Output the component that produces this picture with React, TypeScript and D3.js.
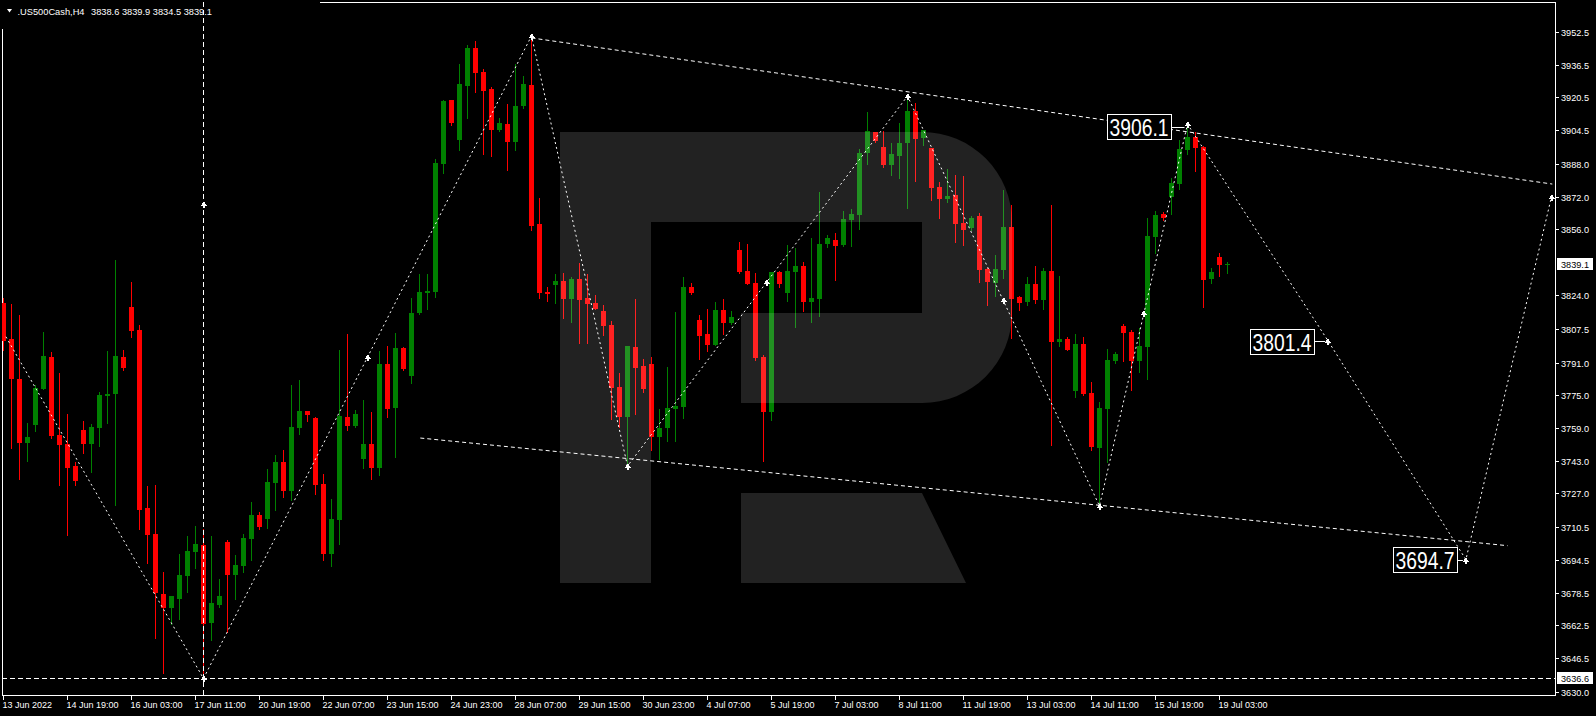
import React from 'react';
import * as d3 from 'd3';

// H4 candles, 13 Jun 2022 -> 19 Jul 2022
const opens = [
  3820.2, 3802.3, 3782.8, 3751.8, 3760.6, 3778.2, 3793.5, 3755.6, 3751.2, 3740.4,
  3758.0, 3751.3, 3759.2, 3774.8, 3775.8, 3793.5, 3818.1, 3806.9, 3719.9, 3707.2,
  3677.9, 3671.2, 3675.3, 3686.8, 3698.6, 3701.7, 3663.9, 3672.5, 3703.3, 3687.3,
  3691.7, 3704.9, 3716.5, 3714.5, 3732.1, 3742.4, 3728.2, 3759.0, 3767.3, 3763.9,
  3731.6, 3697.4, 3714.0, 3764.4, 3760.0, 3743.9, 3751.2, 3739.5, 3790.3, 3768.8,
  3798.1, 3784.4, 3815.2, 3825.0, 3825.5, 3888.0, 3919.3, 3899.7, 3926.1, 3944.7,
  3933.0, 3924.7, 3904.6, 3907.6, 3898.8, 3916.4, 3926.6, 3858.7, 3825.5, 3828.9,
  3830.8, 3822.0, 3831.8, 3822.5, 3820.1, 3816.2, 3809.3, 3779.0, 3764.4, 3798.6,
  3789.3, 3790.3, 3754.6, 3759.0, 3768.3, 3769.3, 3827.9, 3811.8, 3804.9, 3799.5,
  3816.6, 3810.3, 3846.0, 3835.7, 3829.9, 3793.7, 3766.8, 3835.2, 3825.0, 3835.2,
  3838.2, 3820.6, 3822.0, 3848.9, 3850.9, 3848.4, 3860.6, 3863.1, 3893.4, 3903.6,
  3896.3, 3887.5, 3891.9, 3898.3, 3913.9, 3900.7, 3895.8, 3876.8, 3870.9, 3872.9,
  3859.2, 3856.7, 3862.6, 3836.7, 3829.8, 3836.2, 3857.2, 3823.0, 3820.5, 3829.4,
  3821.5, 3835.7, 3801.0, 3802.5, 3777.1, 3800.0, 3776.1, 3749.2, 3768.3, 3791.7,
  3808.9, 3805.9, 3791.7, 3798.6, 3852.3, 3863.6, 3871.9, 3878.2, 3894.8, 3901.2,
  3896.3, 3831.8, 3842.6, 3838.6,
];
const highs = [
  3822.5, 3819.6, 3814.2, 3761.3, 3780.0, 3805.7, 3796.1, 3785.7, 3765.7, 3742.2,
  3762.4, 3760.9, 3776.4, 3796.6, 3841.1, 3797.1, 3830.5, 3809.3, 3730.7, 3731.2,
  3688.6, 3676.9, 3697.4, 3706.2, 3711.1, 3709.6, 3706.2, 3685.2, 3704.3, 3696.9,
  3707.2, 3722.8, 3717.9, 3739.0, 3745.8, 3748.3, 3780.0, 3782.4, 3767.3, 3764.4,
  3736.5, 3724.3, 3797.1, 3804.9, 3767.8, 3772.7, 3766.8, 3796.6, 3799.1, 3805.4,
  3798.5, 3822.5, 3834.3, 3834.3, 3890.4, 3919.3, 3919.3, 3936.9, 3946.2, 3948.1,
  3934.4, 3925.6, 3910.5, 3917.3, 3936.9, 3931.0, 3950.6, 3871.4, 3827.9, 3834.3,
  3834.7, 3832.8, 3839.6, 3834.2, 3824.0, 3819.1, 3811.3, 3785.9, 3799.1, 3822.0,
  3792.7, 3793.7, 3768.3, 3788.8, 3815.7, 3832.8, 3829.9, 3814.2, 3817.1, 3820.6,
  3822.0, 3816.2, 3849.9, 3848.9, 3834.7, 3794.7, 3835.2, 3835.7, 3848.4, 3846.9,
  3840.1, 3851.8, 3874.3, 3853.3, 3854.3, 3865.0, 3866.0, 3895.3, 3913.4, 3903.6,
  3904.1, 3898.3, 3908.0, 3921.2, 3917.8, 3904.6, 3895.8, 3879.2, 3885.5, 3882.6,
  3882.1, 3862.6, 3864.0, 3837.2, 3843.5, 3875.3, 3868.0, 3823.5, 3832.8, 3838.1,
  3837.2, 3868.0, 3833.3, 3803.5, 3804.9, 3803.5, 3781.5, 3771.7, 3797.6, 3796.1,
  3809.8, 3806.9, 3807.9, 3861.6, 3865.0, 3864.5, 3881.2, 3899.7, 3907.5, 3903.6,
  3896.8, 3837.2, 3844.5, 3839.9,
];
const lows = [
  3797.1, 3749.1, 3734.2, 3742.9, 3757.7, 3778.2, 3754.1, 3731.3, 3706.7, 3731.3,
  3746.8, 3737.5, 3750.4, 3761.6, 3721.5, 3787.3, 3803.6, 3709.8, 3693.2, 3656.5,
  3639.4, 3663.2, 3665.8, 3679.0, 3690.8, 3636.6, 3655.6, 3671.7, 3659.3, 3675.4,
  3688.6, 3694.5, 3709.5, 3710.1, 3718.9, 3725.4, 3723.8, 3756.1, 3762.4, 3726.8,
  3694.5, 3691.5, 3702.3, 3758.0, 3759.5, 3739.5, 3734.1, 3736.0, 3764.4, 3744.8,
  3787.3, 3781.0, 3814.7, 3817.2, 3823.0, 3883.6, 3907.1, 3894.8, 3910.5, 3923.2,
  3892.9, 3891.9, 3904.1, 3885.1, 3894.8, 3915.4, 3855.8, 3822.5, 3821.1, 3820.1,
  3812.9, 3811.0, 3800.7, 3800.7, 3817.1, 3804.4, 3763.4, 3759.5, 3740.4, 3765.8,
  3776.6, 3748.3, 3743.8, 3752.6, 3752.6, 3763.9, 3824.5, 3792.7, 3796.6, 3799.5,
  3804.9, 3809.8, 3834.7, 3829.4, 3792.2, 3742.9, 3762.9, 3827.9, 3821.1, 3808.4,
  3816.2, 3810.8, 3813.7, 3847.4, 3831.3, 3847.9, 3847.9, 3856.2, 3888.0, 3898.8,
  3886.5, 3882.6, 3881.2, 3866.5, 3879.7, 3897.3, 3870.4, 3861.6, 3869.4, 3849.9,
  3848.4, 3855.8, 3830.3, 3819.1, 3823.5, 3832.3, 3803.0, 3816.7, 3819.1, 3820.1,
  3817.2, 3750.7, 3799.1, 3797.1, 3774.2, 3775.1, 3748.3, 3720.9, 3742.4, 3790.8,
  3791.7, 3777.6, 3786.4, 3783.0, 3844.5, 3860.6, 3863.6, 3875.8, 3892.9, 3884.6,
  3818.1, 3829.9, 3833.3, 3834.5,
];
const closes = [
  3801.7, 3782.8, 3751.8, 3754.6, 3778.5, 3794.2, 3755.2, 3750.9, 3739.6, 3733.1,
  3751.3, 3759.5, 3775.1, 3775.6, 3794.2, 3788.3, 3806.4, 3719.1, 3706.9, 3678.2,
  3671.2, 3676.9, 3687.2, 3698.9, 3702.3, 3663.4, 3673.5, 3676.9, 3687.3, 3692.0,
  3705.2, 3716.5, 3710.5, 3732.6, 3742.4, 3728.2, 3759.5, 3767.3, 3765.4, 3731.2,
  3697.4, 3714.5, 3764.9, 3760.0, 3765.8, 3751.2, 3739.5, 3790.3, 3768.3, 3798.1,
  3787.8, 3815.2, 3825.5, 3826.0, 3888.5, 3918.8, 3908.0, 3927.1, 3944.7, 3932.5,
  3923.7, 3904.6, 3908.0, 3898.8, 3916.4, 3927.1, 3857.7, 3825.0, 3824.5, 3830.8,
  3822.0, 3831.8, 3821.7, 3819.6, 3817.1, 3808.8, 3778.5, 3764.4, 3799.1, 3788.3,
  3778.0, 3754.6, 3759.0, 3768.8, 3769.7, 3827.9, 3825.0, 3803.9, 3799.5, 3816.6,
  3810.3, 3813.2, 3835.2, 3829.4, 3793.2, 3766.8, 3835.2, 3829.4, 3835.7, 3838.2,
  3820.6, 3822.5, 3848.9, 3851.8, 3847.9, 3861.1, 3863.6, 3893.4, 3904.1, 3899.2,
  3887.5, 3892.9, 3898.3, 3913.9, 3900.2, 3904.6, 3876.3, 3870.9, 3872.4, 3858.7,
  3855.8, 3861.6, 3836.2, 3830.3, 3836.7, 3857.2, 3822.0, 3820.1, 3829.4, 3821.5,
  3835.7, 3801.0, 3802.5, 3797.1, 3800.0, 3775.6, 3749.7, 3768.8, 3792.2, 3795.2,
  3805.4, 3791.7, 3799.1, 3852.8, 3863.1, 3861.6, 3878.7, 3895.3, 3901.2, 3895.8,
  3831.3, 3835.2, 3838.7, 3839.1,
];

// bottom axis: one label every 8 bars
const timeLabels = [
  '13 Jun 2022', '14 Jun 19:00', '16 Jun 03:00', '17 Jun 11:00', '20 Jun 19:00',
  '22 Jun 07:00', '23 Jun 15:00', '24 Jun 23:00', '28 Jun 07:00', '29 Jun 15:00',
  '30 Jun 23:00', '4 Jul 07:00', '5 Jul 19:00', '7 Jul 03:00', '8 Jul 11:00',
  '11 Jul 19:00', '13 Jul 03:00', '14 Jul 11:00', '15 Jul 19:00', '19 Jul 03:00',
];
const barsPerLabel = 8;

const priceTicks = [
  3952.5, 3936.5, 3920.5, 3904.5, 3888.0, 3872.0, 3856.0, 3824.0, 3807.5, 3791.0,
  3775.0, 3759.0, 3743.0, 3727.0, 3710.5, 3694.5, 3678.5, 3662.5, 3646.5, 3630.0,
];

const lastPrice = 3839.1;
const levelPrice = 3636.6;
const levelBar = 25;
const header = { symbol: '.US500Cash,H4', ohlc: [3838.6, 3839.9, 3834.5, 3839.1] };

// wave path (bar index, price), last three points are the forecast
const waveBars = [0.3, 25, 66, 78, 113, 137, 148, 165.6, 182.8, 193.5];
const wavePrices = [3803.6, 3636.6, 3950.6, 3740.4, 3921.2, 3720.9, 3907.5, 3801.4, 3694.7, 3872.0];

const upperBars = [66, 193.6];
const upperPrices = [3949.6, 3878.2];
const lowerBars = [52.1, 188.0];
const lowerPrices = [3754.1, 3701.5];

const targetTexts = ['3906.1', '3801.4', '3694.7'];
const targetBars = [148, 165.6, 182.8];
const targetPrices = [3906.1, 3801.4, 3694.7];

const arrowBars = [25, 45.5, 95.4, 125.0, 142.5];
const arrowPrices = [3868.5, 3793.6, 3830.5, 3821.5, 3815.0];

const W = 1596;
const H = 716;
const plot = { left: 2, top: 2, right: 1555, bottom: 695 };
const FONT = '"Liberation Sans", Arial, sans-serif';
const RED = '#ff0000';
const GREEN = '#008000';

const x = d3.scaleLinear().domain([0, 1]).range([3.5, 11.5]);
const y = d3.scaleLinear().domain([3630, 3952.5]).range([692, 32]);

const line = d3
  .line<[number, number]>()
  .x(d => x(d[0]))
  .y(d => y(d[1]));

function Arrow({ cx, cy }: { cx: number; cy: number }) {
  const px = Math.round(cx);
  const py = Math.round(cy);
  return (
    <path
      d={`M${px - 3},${py + 2} L${px},${py - 3} L${px + 3},${py + 2} Z M${px - 1},${py + 2} h2 v2 h-2 Z`}
      fill="#fff"
      shapeRendering="crispEdges"
    />
  );
}

export default function App() {
  const candles = opens.map((o, i) => ({ i, o, h: highs[i], l: lows[i], c: closes[i] }));
  const wave = line(waveBars.map((b, k) => [b, wavePrices[k]] as [number, number]));
  const upper = line(upperBars.map((b, k) => [b, upperPrices[k]] as [number, number]));
  const lower = line(lowerBars.map((b, k) => [b, lowerPrices[k]] as [number, number]));
  const gaps = [17, 14, 9];

  return (
    <svg
      width={W}
      height={H}
      style={{ position: 'absolute', left: 0, top: 0, display: 'block', fontFamily: FONT }}
    >
      <defs>
        <clipPath id="plot">
          <rect x={plot.left} y={plot.top} width={plot.right - plot.left} height={plot.bottom - plot.top} />
        </clipPath>
      </defs>
      <rect width={W} height={H} fill="#000" />

      {/* frame */}
      <rect
        x={plot.left + 0.5}
        y={plot.top + 0.5}
        width={plot.right - plot.left}
        height={plot.bottom - plot.top}
        fill="none"
        stroke="#fff"
        shapeRendering="crispEdges"
      />
      <rect x={0} y={0} width={320} height={29} fill="#000" />

      <g clipPath="url(#plot)">
        {/* candles */}
        {candles.map(d => {
          const col = d.c >= d.o ? GREEN : RED;
          const top = Math.round(y(Math.max(d.o, d.c)));
          const bot = Math.round(y(Math.min(d.o, d.c)));
          return (
            <g key={d.i} shapeRendering="crispEdges">
              <line x1={x(d.i)} x2={x(d.i)} y1={Math.round(y(d.h))} y2={Math.round(y(d.l)) + 1} stroke={col} />
              <rect x={x(d.i) - 2.5} y={top} width={5} height={Math.max(1, bot - top)} fill={col} />
            </g>
          );
        })}

        {/* watermark */}
        <path
          d="M560,132 H651 V583 H560 Z M651,132 H922 A90,90 0 0 1 1012,222 V313 A90,90 0 0 1 922,403 H741 V313 H922 V222 H651 Z M741,493 H922 L966,583 H741 Z"
          fill="#fff"
          fillOpacity={0.133}
        />

        {/* level lines */}
        <line
          x1={x(levelBar)}
          x2={x(levelBar)}
          y1={plot.top}
          y2={plot.bottom}
          stroke="#fff"
          strokeDasharray="5,3"
          shapeRendering="crispEdges"
        />
        <line
          x1={plot.left}
          x2={plot.right}
          y1={Math.round(y(levelPrice)) + 0.5}
          y2={Math.round(y(levelPrice)) + 0.5}
          stroke="#fff"
          strokeDasharray="5,3"
          shapeRendering="crispEdges"
        />

        {/* channel + wave */}
        <path d={upper ?? ''} fill="none" stroke="#fff" strokeDasharray="4,3" />
        <path d={lower ?? ''} fill="none" stroke="#fff" strokeDasharray="4,3" />
        <path d={wave ?? ''} fill="none" stroke="#fff" strokeDasharray="2,3" />

        {waveBars.slice(1).map((b, k) => (
          <Arrow key={'w' + k} cx={x(b)} cy={y(wavePrices[k + 1])} />
        ))}
        {arrowBars.map((b, k) => (
          <Arrow key={'a' + k} cx={x(b)} cy={y(arrowPrices[k])} />
        ))}

        {/* target labels */}
        {targetTexts.map((t, k) => {
          const px = x(targetBars[k]);
          const py = y(targetPrices[k]);
          const bw = 64;
          const bh = 25;
          const bx = Math.round(px - gaps[k] - bw) + 0.5;
          const by = Math.round(py - bh / 2) + 0.5;
          return (
            <g key={t}>
              <line x1={bx + bw} x2={px - 3} y1={Math.round(py) + 0.5} y2={Math.round(py) + 0.5} stroke="#fff" />
              <rect x={bx} y={by} width={bw} height={bh} fill="#000" stroke="#fff" />
              <text
                x={bx + 2}
                y={by + bh / 2 + 8.5}
                fill="#fff"
                fontSize={24}
                textLength={59}
                lengthAdjust="spacingAndGlyphs"
              >
                {t}
              </text>
            </g>
          );
        })}
      </g>

      {/* header */}
      <path d="M7,9 H12 L9.5,12.5 Z" fill="#fff" />
      <text x={17.5} y={14.5} fill="#fff" fontSize={9.5} textLength={67} lengthAdjust="spacingAndGlyphs">
        {header.symbol}
      </text>
      <text x={91} y={14.5} fill="#fff" fontSize={9.5} textLength={121} lengthAdjust="spacingAndGlyphs">
        {header.ohlc.map(v => v.toFixed(1)).join(' ')}
      </text>

      {/* price axis */}
      <g fontSize={9} fill="#fff">
        {priceTicks.map(t => {
          const py = Math.round(y(t)) + 0.5;
          return (
            <g key={t}>
              <line x1={plot.right} x2={plot.right + 4} y1={py} y2={py} stroke="#fff" shapeRendering="crispEdges" />
              <text x={plot.right + 6} y={py + 3.5} textLength={28} lengthAdjust="spacingAndGlyphs">
                {t.toFixed(1)}
              </text>
            </g>
          );
        })}
        {[lastPrice, levelPrice].map(v => {
          const py = Math.round(y(v));
          return (
            <g key={v}>
              <rect x={plot.right + 2} y={py - 6} width={36} height={12} fill="#fff" />
              <text x={plot.right + 6} y={py + 3.5} fill="#000" textLength={28} lengthAdjust="spacingAndGlyphs">
                {v.toFixed(1)}
              </text>
            </g>
          );
        })}
      </g>

      {/* time axis */}
      <g fontSize={9} fill="#fff">
        {timeLabels.map((t, k) => {
          const px = x(k * barsPerLabel);
          return (
            <g key={t}>
              <line x1={px} x2={px} y1={plot.bottom} y2={plot.bottom + 5} stroke="#fff" shapeRendering="crispEdges" />
              <text x={px - 1} y={708}>
                {t}
              </text>
            </g>
          );
        })}
      </g>
    </svg>
  );
}
